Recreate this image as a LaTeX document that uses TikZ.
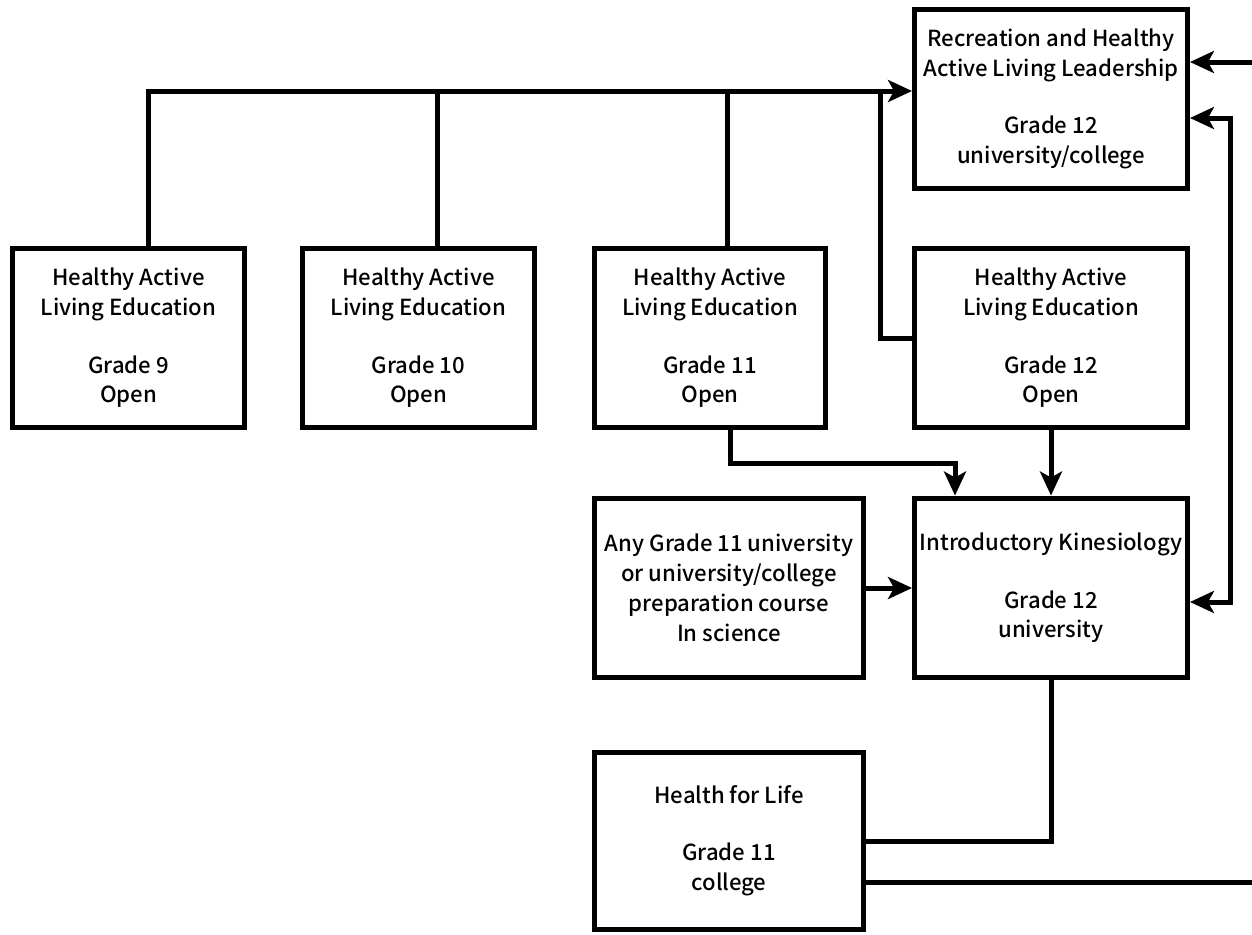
\documentclass[tikz,border=0pt]{standalone}
\usepackage{fontspec}
\setmainfont{Noto Sans CJK KR Medium}
\usetikzlibrary{arrows.meta}

\begin{document}
\begin{tikzpicture}[x=0.02cm, y=-0.02cm]
	\useasboundingbox (0,0) rectangle (1252,934);
				\begin{scope}[every node/.style = {rectangle, draw, line width=0.1cm, align=center,
					inner sep=0pt, minimum height=3.6cm, font=\fontsize{12.6}{17}\selectfont}]
					\node[minimum width=5.46cm] (R) at (1051,99) {Recreation and Healthy\\Active Living Leadership\\[0.55cm]Grade 12\\university/college};
					\node[minimum width=4.64cm] (G9) at (128.5,338) {Healthy Active\\Living Education\\[0.55cm]Grade 9\\Open};
					\node[minimum width=4.64cm] (G10) at (418.5,338) {Healthy Active\\Living Education\\[0.55cm]Grade 10\\Open};
					\node[minimum width=4.64cm] (G11) at (710,338) {Healthy Active\\Living Education\\[0.55cm]Grade 11\\Open};
					\node[minimum width=5.46cm] (G12) at (1051,338) {Healthy Active\\Living Education\\[0.55cm]Grade 12\\Open};
					\node[minimum width=5.38cm] (S) at (729,588) {Any Grade 11 university\\or university/college\\preparation course\\In science};
					\node[minimum width=5.46cm] (K) at (1051,588) {Introductory Kinesiology\\[0.55cm]Grade 12\\university};
					\node[minimum width=5.38cm, minimum height=3.54cm] (H) at (729,841) {Health for Life\\[0.55cm]Grade 11\\college};
				\end{scope}
					\coordinate (bus) at (148,91);
					\coordinate (t10) at (437,91);
					\coordinate (t11) at (727,91);
					\coordinate (t12) at (880,91);
					\coordinate (d11) at (730,463);
					\coordinate (k11) at (955,463);
					\coordinate (in) at (1252,62);
					\coordinate (rail) at (1230,118);
					\coordinate (rail2) at (1230,602);
					\coordinate (out) at (1252,882);
				\begin{scope}[line width=0.1cm,
						>={Stealth[length=0.48cm, width=0.44cm, inset=0.12cm]}]
					\draw [->] (G9.north -| bus) -- (bus) -- (R.west |- bus);
					\draw [-] (G10.north -| t10) -- (t10);
					\draw [-] (G11.north -| t11) -- (t11);
					\draw [-] (G12.west) -| (t12);
					\draw [->] (G11.south -| d11) -- (d11) -- (k11) -- (K.north -| k11);
					\draw [->] (G12) -- (K);
					\draw [->] (S) -- (K);
					\draw [->] (in) -- (R.east |- in);
					\draw [<->] (R.east |- rail) -- (rail) -- (rail2) -- (K.east |- rail2);
					\draw [-] (K.south) |- (H.east);
					\draw [-] (H.east |- out) -- (out);
				\end{scope}
			\end{tikzpicture}
\end{document}
